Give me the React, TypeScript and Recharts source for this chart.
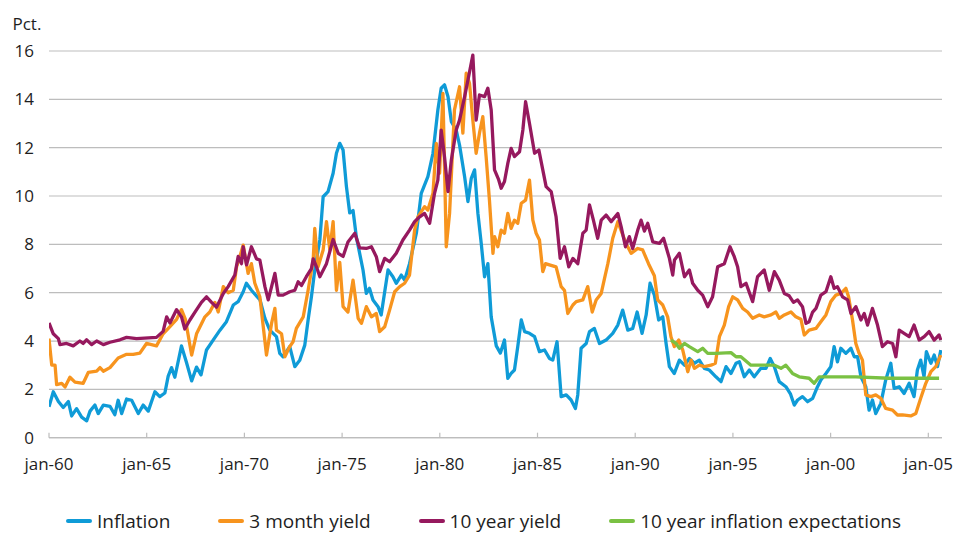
import React from 'react';
import { LineChart, Line, XAxis, YAxis, CartesianGrid } from 'recharts';

// [decimal year, percent]
const inflation: [number, number][] = [
  [1960.0, 1.28], [1960.22, 1.9], [1960.48, 1.5], [1960.73, 1.25], [1960.99, 1.5], [1961.16, 0.9],
  [1961.41, 1.2], [1961.67, 0.85], [1961.93, 0.7], [1962.1, 1.1], [1962.35, 1.35], [1962.52, 1.0],
  [1962.78, 1.35], [1963.12, 1.3], [1963.37, 0.95], [1963.54, 1.55], [1963.72, 1.0], [1963.97, 1.6],
  [1964.23, 1.55], [1964.57, 1.0], [1964.82, 1.35], [1965.08, 1.1], [1965.42, 1.9], [1965.67, 1.7],
  [1965.93, 1.85], [1966.1, 2.55], [1966.27, 2.9], [1966.44, 2.5], [1966.78, 3.8], [1967.04, 3.1],
  [1967.3, 2.35], [1967.55, 2.92], [1967.78, 2.6], [1968.06, 3.63], [1968.4, 4.04], [1968.75, 4.45],
  [1969.08, 4.8], [1969.43, 5.49], [1969.68, 5.63], [1969.94, 6.04], [1970.1, 6.39], [1970.36, 6.1],
  [1970.8, 5.7], [1971.05, 4.94], [1971.3, 4.45], [1971.64, 4.18], [1971.81, 3.49], [1971.98, 3.35],
  [1972.32, 3.77], [1972.58, 2.94], [1972.83, 3.2], [1973.09, 3.83], [1973.26, 4.87], [1973.43, 5.83],
  [1973.6, 6.94], [1973.86, 8.18], [1974.03, 9.97], [1974.28, 10.18], [1974.54, 10.94], [1974.71, 11.77],
  [1974.88, 12.18], [1975.05, 11.9], [1975.22, 10.4], [1975.39, 9.3], [1975.56, 9.4], [1975.73, 8.3],
  [1976.07, 6.94], [1976.24, 5.97], [1976.4, 6.18], [1976.58, 5.7], [1976.84, 5.42], [1977.0, 5.08],
  [1977.18, 6.04], [1977.35, 6.94], [1977.6, 6.66], [1977.77, 6.39], [1978.03, 6.73], [1978.2, 6.52],
  [1978.45, 7.2], [1978.8, 8.46], [1979.05, 10.11], [1979.39, 10.8], [1979.65, 11.77], [1979.9, 13.56],
  [1980.07, 14.46], [1980.24, 14.6], [1980.42, 14.11], [1980.59, 13.08], [1980.84, 12.73], [1981.01, 12.11],
  [1981.27, 10.8], [1981.44, 9.77], [1981.61, 10.73], [1981.78, 11.08], [1981.95, 9.28], [1982.12, 8.04],
  [1982.29, 6.66], [1982.46, 7.2], [1982.63, 5.0], [1982.89, 3.8], [1983.1, 3.5], [1983.31, 4.04],
  [1983.48, 2.46], [1983.65, 2.66], [1983.82, 2.8], [1983.99, 3.77], [1984.17, 4.87], [1984.34, 4.39],
  [1984.59, 4.32], [1984.85, 4.18], [1985.1, 3.56], [1985.36, 3.63], [1985.61, 3.28], [1985.78, 3.21],
  [1986.0, 3.97], [1986.21, 1.7], [1986.47, 1.77], [1986.72, 1.56], [1986.94, 1.21], [1987.06, 1.77],
  [1987.23, 3.7], [1987.49, 3.9], [1987.66, 4.39], [1987.91, 4.52], [1988.17, 3.9], [1988.51, 4.04],
  [1988.85, 4.32], [1989.11, 4.66], [1989.36, 5.28], [1989.62, 4.45], [1989.87, 4.52], [1990.1, 5.2],
  [1990.35, 4.32], [1990.56, 5.08], [1990.76, 6.39], [1990.98, 5.9], [1991.2, 4.87], [1991.41, 5.0],
  [1991.58, 3.9], [1991.75, 2.94], [1992.0, 2.66], [1992.26, 3.21], [1992.52, 3.0], [1992.77, 3.28],
  [1993.03, 3.08], [1993.28, 3.21], [1993.54, 2.87], [1993.79, 2.8], [1994.13, 2.52], [1994.39, 2.32],
  [1994.65, 2.94], [1994.9, 2.66], [1995.16, 3.08], [1995.33, 3.14], [1995.58, 2.52], [1995.84, 2.8],
  [1996.09, 2.52], [1996.43, 2.87], [1996.69, 2.87], [1996.91, 3.28], [1997.12, 2.94], [1997.37, 2.32],
  [1997.71, 2.11], [1997.95, 1.8], [1998.14, 1.35], [1998.31, 1.56], [1998.56, 1.7], [1998.82, 1.49],
  [1999.08, 1.63], [1999.33, 2.11], [1999.5, 2.39], [1999.76, 2.66], [2000.01, 2.94], [2000.18, 3.77],
  [2000.35, 3.14], [2000.52, 3.7], [2000.78, 3.49], [2001.04, 3.7], [2001.21, 3.35], [2001.38, 3.35],
  [2001.55, 2.52], [2001.8, 2.11], [2001.97, 1.14], [2002.14, 1.56], [2002.31, 1.0], [2002.57, 1.42],
  [2002.82, 2.39], [2003.08, 3.08], [2003.25, 2.04], [2003.51, 2.11], [2003.76, 1.83], [2004.02, 2.25],
  [2004.27, 1.7], [2004.44, 2.8], [2004.61, 3.21], [2004.78, 2.52], [2004.9, 3.56], [2005.13, 3.08],
  [2005.3, 3.42], [2005.47, 2.94], [2005.64, 3.63],
];

const yield3m: [number, number][] = [
  [1960.0, 4.1], [1960.14, 3.0], [1960.31, 3.0], [1960.39, 2.2], [1960.65, 2.25], [1960.82, 2.1],
  [1961.07, 2.5], [1961.33, 2.3], [1961.75, 2.25], [1962.01, 2.7], [1962.44, 2.75], [1962.61, 2.9],
  [1962.78, 2.75], [1963.12, 2.9], [1963.54, 3.3], [1963.97, 3.45], [1964.31, 3.45], [1964.65, 3.5],
  [1964.99, 3.9], [1965.5, 3.8], [1965.84, 4.3], [1966.19, 4.6], [1966.53, 4.9], [1966.78, 5.3],
  [1966.98, 4.9], [1967.3, 3.42], [1967.55, 4.3], [1967.98, 5.0], [1968.23, 5.2], [1968.49, 5.6],
  [1968.66, 5.2], [1968.92, 6.25], [1969.17, 6.0], [1969.43, 6.1], [1969.6, 7.07], [1969.77, 7.5],
  [1969.94, 7.97], [1970.19, 6.8], [1970.36, 7.2], [1970.53, 6.4], [1970.79, 5.83], [1971.13, 3.42],
  [1971.39, 4.73], [1971.56, 5.35], [1971.64, 4.45], [1971.9, 4.3], [1972.07, 3.35], [1972.32, 3.77],
  [1972.49, 3.97], [1972.66, 4.52], [1973.01, 5.0], [1973.26, 6.1], [1973.52, 7.35], [1973.6, 8.66],
  [1973.77, 7.07], [1974.03, 7.77], [1974.2, 8.94], [1974.37, 7.77], [1974.54, 8.94], [1974.71, 6.1],
  [1974.88, 7.25], [1975.05, 5.42], [1975.3, 5.2], [1975.56, 6.52], [1975.82, 4.94], [1975.99, 4.73],
  [1976.24, 5.42], [1976.5, 5.0], [1976.75, 5.14], [1976.92, 4.39], [1977.18, 4.59], [1977.43, 5.28],
  [1977.69, 6.04], [1977.95, 6.25], [1978.2, 6.39], [1978.45, 6.73], [1978.71, 8.59], [1978.88, 9.14],
  [1979.22, 9.56], [1979.39, 9.42], [1979.65, 10.11], [1979.82, 12.18], [1979.99, 10.94], [1980.16, 14.25],
  [1980.33, 7.9], [1980.5, 9.28], [1980.75, 13.56], [1981.01, 14.52], [1981.18, 12.6], [1981.35, 15.08],
  [1981.52, 14.66], [1981.69, 13.14], [1981.86, 11.77], [1982.03, 12.6], [1982.2, 13.28], [1982.37, 11.63],
  [1982.54, 9.83], [1982.72, 7.63], [1982.8, 8.32], [1982.97, 7.9], [1983.14, 8.59], [1983.31, 8.46],
  [1983.48, 9.28], [1983.65, 8.66], [1983.82, 9.0], [1983.99, 8.87], [1984.17, 9.7], [1984.39, 9.83],
  [1984.59, 10.66], [1984.76, 9.0], [1984.93, 8.46], [1985.1, 8.18], [1985.27, 6.87], [1985.41, 7.2],
  [1985.61, 7.15], [1985.95, 7.07], [1986.21, 6.25], [1986.38, 6.1], [1986.55, 5.14], [1986.81, 5.49],
  [1986.98, 5.63], [1987.32, 5.7], [1987.57, 6.25], [1987.8, 5.2], [1988.0, 5.7], [1988.26, 5.97],
  [1988.43, 6.59], [1988.6, 7.2], [1988.85, 8.25], [1989.11, 8.94], [1989.33, 8.46], [1989.53, 8.04],
  [1989.79, 7.63], [1990.13, 7.83], [1990.38, 7.77], [1990.68, 7.2], [1990.98, 6.7], [1991.15, 5.7],
  [1991.41, 5.49], [1991.66, 5.0], [1991.83, 4.18], [1992.0, 3.77], [1992.23, 4.04], [1992.43, 3.63],
  [1992.69, 2.73], [1992.86, 3.21], [1993.03, 2.87], [1993.28, 3.0], [1993.54, 2.94], [1993.88, 3.0],
  [1994.1, 3.08], [1994.31, 4.18], [1994.56, 4.66], [1994.78, 5.42], [1994.99, 5.83], [1995.24, 5.7],
  [1995.5, 5.35], [1995.75, 5.2], [1996.01, 4.94], [1996.35, 5.08], [1996.6, 5.0], [1996.95, 5.08],
  [1997.2, 5.2], [1997.37, 4.94], [1997.63, 5.08], [1997.97, 5.2], [1998.22, 5.0], [1998.48, 4.9],
  [1998.65, 4.25], [1998.9, 4.45], [1999.25, 4.52], [1999.5, 4.8], [1999.76, 5.08], [2000.01, 5.63],
  [2000.27, 5.9], [2000.53, 5.97], [2000.78, 6.18], [2000.92, 5.83], [2001.12, 4.87], [2001.29, 3.9],
  [2001.46, 3.49], [2001.63, 3.21], [2001.8, 1.77], [2002.06, 1.7], [2002.31, 1.77], [2002.57, 1.63],
  [2002.82, 1.21], [2003.17, 1.14], [2003.42, 0.94], [2003.68, 0.94], [2004.1, 0.9], [2004.36, 1.0],
  [2004.61, 1.63], [2004.87, 2.25], [2005.13, 2.73], [2005.38, 2.94], [2005.64, 3.42],
];

const yield10y: [number, number][] = [
  [1960.0, 4.75], [1960.22, 4.3], [1960.48, 4.1], [1960.56, 3.85], [1960.9, 3.9], [1961.24, 3.8],
  [1961.58, 4.0], [1961.75, 3.9], [1961.92, 4.05], [1962.18, 3.85], [1962.44, 4.0], [1962.78, 3.85],
  [1963.12, 3.95], [1963.63, 4.05], [1963.97, 4.15], [1964.48, 4.1], [1965.5, 4.15], [1965.84, 4.4],
  [1966.02, 5.0], [1966.19, 4.75], [1966.53, 5.3], [1966.78, 5.0], [1966.95, 4.5], [1967.21, 4.87],
  [1967.47, 5.2], [1967.8, 5.6], [1968.06, 5.83], [1968.32, 5.6], [1968.57, 5.4], [1968.92, 5.97],
  [1969.17, 6.25], [1969.51, 6.73], [1969.68, 7.5], [1969.85, 7.2], [1969.94, 7.9], [1970.11, 7.15],
  [1970.36, 7.9], [1970.62, 7.4], [1970.79, 7.35], [1971.05, 6.25], [1971.22, 5.7], [1971.56, 6.8],
  [1971.73, 5.9], [1971.98, 5.9], [1972.32, 6.04], [1972.58, 6.1], [1972.75, 6.45], [1972.92, 6.3],
  [1973.17, 6.66], [1973.43, 7.0], [1973.52, 7.4], [1973.69, 7.07], [1973.86, 6.66], [1974.2, 7.2],
  [1974.54, 8.2], [1974.8, 7.63], [1975.05, 7.5], [1975.3, 8.1], [1975.65, 8.46], [1975.9, 7.85],
  [1976.24, 7.83], [1976.5, 7.9], [1976.75, 7.49], [1976.92, 6.87], [1977.18, 7.42], [1977.43, 7.28],
  [1977.77, 7.63], [1978.11, 8.18], [1978.45, 8.59], [1978.71, 8.94], [1978.97, 9.14], [1979.22, 9.28],
  [1979.48, 8.87], [1979.73, 10.11], [1979.9, 10.66], [1980.07, 12.73], [1980.24, 11.63], [1980.42, 10.18],
  [1980.59, 11.49], [1980.84, 12.73], [1981.01, 13.14], [1981.27, 14.11], [1981.44, 14.8], [1981.69, 15.83],
  [1981.86, 13.14], [1982.03, 14.18], [1982.29, 14.11], [1982.46, 14.46], [1982.63, 13.56], [1982.8, 11.08],
  [1983.0, 10.7], [1983.14, 10.32], [1983.31, 10.6], [1983.48, 11.35], [1983.65, 11.97], [1983.82, 11.63],
  [1984.08, 11.83], [1984.25, 12.73], [1984.39, 13.9], [1984.59, 13.0], [1984.85, 11.77], [1985.07, 11.9],
  [1985.27, 11.08], [1985.44, 10.39], [1985.7, 10.18], [1985.95, 9.14], [1986.16, 7.42], [1986.38, 7.9],
  [1986.6, 7.07], [1986.81, 7.42], [1987.06, 7.2], [1987.32, 8.46], [1987.49, 8.59], [1987.66, 9.63],
  [1987.86, 9.0], [1988.08, 8.25], [1988.26, 9.0], [1988.51, 9.21], [1988.77, 8.94], [1989.11, 9.28],
  [1989.28, 8.73], [1989.5, 7.9], [1989.7, 8.32], [1989.87, 7.83], [1990.13, 8.59], [1990.3, 9.0],
  [1990.47, 8.55], [1990.64, 8.87], [1990.9, 8.1], [1991.24, 8.04], [1991.45, 8.25], [1991.75, 7.42],
  [1991.92, 6.73], [1992.01, 7.35], [1992.26, 7.63], [1992.52, 6.66], [1992.77, 6.94], [1992.94, 6.39],
  [1993.2, 6.1], [1993.45, 5.9], [1993.71, 5.42], [1993.96, 5.83], [1994.22, 7.07], [1994.56, 7.2],
  [1994.85, 7.9], [1995.07, 7.49], [1995.24, 7.07], [1995.41, 6.25], [1995.67, 6.39], [1996.01, 5.63],
  [1996.26, 6.66], [1996.6, 6.94], [1996.86, 6.1], [1997.12, 6.87], [1997.37, 6.52], [1997.63, 5.97],
  [1997.88, 5.87], [1998.1, 5.6], [1998.31, 5.7], [1998.56, 5.42], [1998.74, 4.73], [1998.9, 4.8],
  [1999.08, 5.2], [1999.25, 5.35], [1999.5, 5.9], [1999.76, 6.04], [2000.01, 6.66], [2000.18, 6.18],
  [2000.35, 6.25], [2000.61, 5.83], [2000.87, 5.7], [2001.04, 5.14], [2001.29, 5.42], [2001.55, 4.87],
  [2001.72, 5.14], [2001.89, 4.66], [2002.14, 5.35], [2002.4, 4.66], [2002.65, 3.77], [2002.91, 3.97],
  [2003.17, 3.9], [2003.34, 3.35], [2003.51, 4.45], [2003.76, 4.32], [2004.02, 4.18], [2004.27, 4.66],
  [2004.53, 4.04], [2004.79, 4.18], [2005.04, 4.39], [2005.3, 4.04], [2005.55, 4.25], [2005.64, 4.04],
];

const expectations10y: [number, number][] = [
  [1991.83, 4.04], [1992.09, 3.9], [1992.26, 3.7], [1992.52, 3.9], [1992.77, 3.77], [1993.2, 3.56],
  [1993.45, 3.7], [1993.71, 3.49], [1994.13, 3.49], [1994.9, 3.52], [1995.16, 3.35], [1995.41, 3.35],
  [1995.92, 3.0], [1996.52, 3.0], [1997.12, 3.0], [1997.46, 2.87], [1997.71, 3.0], [1998.05, 2.66],
  [1998.39, 2.52], [1998.9, 2.46], [1999.16, 2.25], [1999.42, 2.52], [2001.29, 2.52], [2003.0, 2.46],
  [2005.55, 2.46],
];

const seriesNames = ['Inflation', '3 month yield', '10 year yield', '10 year inflation expectations'];
const seriesColors = ['#0f9bd7', '#f7941e', '#96195e', '#7ac143'];
const seriesData = [inflation, yield3m, yield10y, expectations10y];

const xTicks = [1960, 1965, 1970, 1975, 1980, 1985, 1990, 1995, 2000, 2005];
const yTicks = [0, 2, 4, 6, 8, 10, 12, 14, 16];
const xTickLabel = (t: number) => 'jan-' + String(t % 100).padStart(2, '0');

const FONT = '"Open Sans", "Noto Sans", sans-serif';
const TEXT = '#1e1e1e';
const GRID = '#bdbdbd';

const toPoints = (arr: [number, number][]) => arr.map(([t, v]) => ({ t, v }));

const XTick = (props: any) => {
  const { x, y, payload } = props;
  return (
    <g>
      <line x1={x} x2={x} y1={y} y2={y - 5} stroke={GRID} strokeWidth={1.2} />
      <text x={x} y={y + 32.5} textAnchor="middle" fill={TEXT} fontSize={17} fontFamily={FONT}>
        {xTickLabel(payload.value)}
      </text>
    </g>
  );
};

export default function App() {
  return (
    <div style={{ position: 'absolute', left: 0, top: 0, width: 957, height: 534, background: '#fff' }}>
      <div
        style={{
          position: 'absolute', left: 12.5, top: 12, fontFamily: FONT, fontSize: 17,
          lineHeight: '24px', color: TEXT,
        }}
      >
        Pct.
      </div>
      <LineChart
        width={957}
        height={534}
        margin={{ top: 51, right: 15, bottom: 66.3, left: 0 }}
      >
        <CartesianGrid vertical={false} stroke={GRID} strokeWidth={1.2} />
        <XAxis
          dataKey="t"
          type="number"
          domain={[1960, 2005.7]}
          ticks={xTicks}
          allowDataOverflow
          height={30}
          tickSize={0}
          tickMargin={0}
          tickLine={false}
          axisLine={{ stroke: GRID, strokeWidth: 1.2 }}
          tick={<XTick />}
          interval={0}
        />
        <YAxis
          type="number"
          domain={[0, 16]}
          ticks={yTicks}
          width={49}
          tickSize={0}
          tickMargin={15}
          axisLine={false}
          tickLine={false}
          tick={{ fill: TEXT, fontSize: 17, fontFamily: FONT }}
          interval={0}
        />
        {seriesData.map((d, i) => (
          <Line
            key={seriesNames[i]}
            data={toPoints(d)}
            dataKey="v"
            name={seriesNames[i]}
            type="linear"
            stroke={seriesColors[i]}
            strokeWidth={3.3}
            strokeLinejoin="round"
            dot={false}
            activeDot={false}
            isAnimationActive={false}
          />
        ))}
      </LineChart>
      <div
        style={{
          position: 'absolute', left: 66, top: 507.5, display: 'flex',
          alignItems: 'center', gap: 48, fontFamily: FONT, fontSize: 19, lineHeight: 'normal',
          color: TEXT, whiteSpace: 'nowrap',
        }}
      >
        {seriesNames.map((n, i) => (
          <div key={n} style={{ display: 'flex', alignItems: 'center' }}>
            <span style={{ display: 'inline-block', width: 26, height: 4, borderRadius: 2, background: seriesColors[i], marginRight: 5 }} />
            <span>{n}</span>
          </div>
        ))}
      </div>
    </div>
  );
}
